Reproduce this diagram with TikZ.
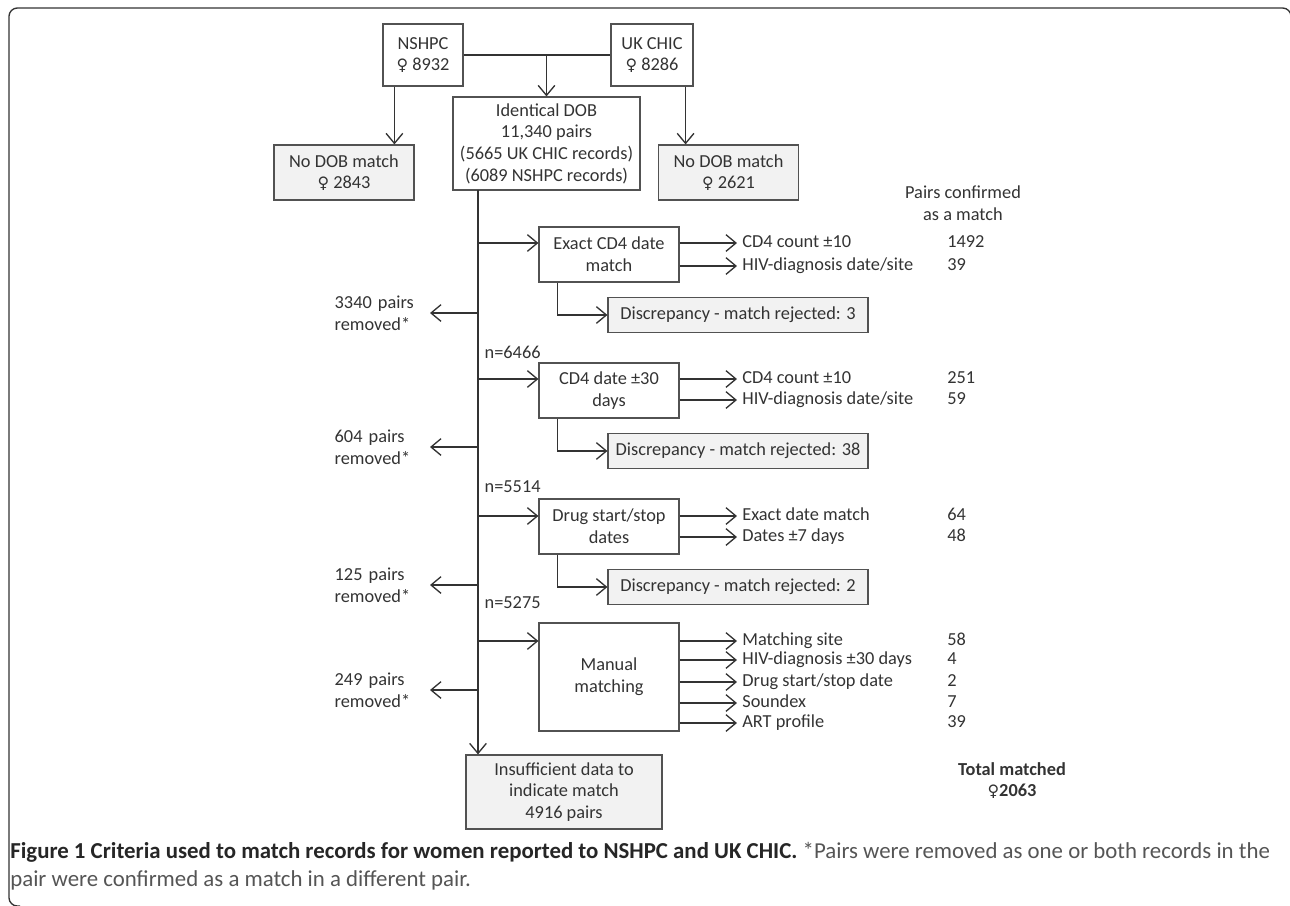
\documentclass[tikz,border=0pt]{standalone}
\usepackage{fontspec}
\setmainfont{Carlito}
\newfontfamily\symfont{DejaVu Sans}
\usetikzlibrary{arrows.meta,positioning}
\definecolor{ink}{HTML}{333333}
\definecolor{boxgray}{HTML}{F2F2F2}
\definecolor{capgray}{HTML}{555555}
\newcommand{\fem}{{\symfont\fontsize{9.5}{11}\selectfont ♀}}

\begin{document}
\begin{tikzpicture}[x=0.6pt, y=-0.6pt,
    every node/.style={font=\fontsize{11}{13}\selectfont, text=ink},
    box/.style={draw=ink!85, line width=0.7pt, align=center, inner sep=0pt},
    greybox/.style={box, fill=boxgray},
    arr/.style={draw=ink, line width=0.8pt, -{Straight Barb[length=6pt,width=10pt]}},
    line/.style={draw=ink, line width=0.8pt},
    lbl/.style={anchor=west, inner sep=3pt, text height=7.5pt, text depth=2pt},
    rem/.style={anchor=west, align=left, text width=55pt, inner sep=2pt}]
  \useasboundingbox (0,0) rectangle (1290,905);
  % frame
  \draw[line, rounded corners=5pt] (20,906) -- (9,906) -- (9,8) -- (1291,8) -- (1291,20);

  % sources
  \node[box, minimum width=48pt, minimum height=37.2pt] (nshpc) at (423,55) {NSHPC\\\fem\ 8932};
  \node[box, minimum width=49.2pt, minimum height=37.2pt] (ukchic) at (652,55) {UK CHIC\\\fem\ 8286};
  \node[box, minimum width=112.2pt, minimum height=55.8pt] (dob) at (546.5,143.5)
    {Identical DOB\\11,340 pairs\\(5665 UK CHIC records)\\(6089 NSHPC records)};
  \node[greybox, minimum width=84pt, minimum height=33pt] (nodob1) at (344,172.5) {No DOB match\\\fem\ 2843};
  \node[greybox, minimum width=84pt, minimum height=33pt] (nodob2) at (728.5,172.5) {No DOB match\\\fem\ 2621};
  \draw[line] (nshpc.east) -- (ukchic.west);
  \draw[arr] (nshpc.east -| dob.north) -- (dob.north);
  \draw[arr] ([xshift=7.2pt]nshpc.south west) -- ([xshift=7.2pt]nshpc.south west |- nodob1.north);
  \draw[arr] ([xshift=-4.8pt]ukchic.south east) -- ([xshift=-4.8pt]ukchic.south east |- nodob2.north);

  % matching steps
  \node[box, minimum width=84pt, minimum height=33pt] (exact) at (609,254.5) {Exact CD4 date\\match};
  \node[box, minimum width=84pt, minimum height=33pt] (cd4d) at (609,390.5) {CD4 date ±30\\days};
  \node[box, minimum width=84pt, minimum height=33pt] (drug) at (609,526.5) {Drug start/stop\\dates};
  \node[box, minimum width=84pt, minimum height=64.8pt] (manual) at (609,677) {Manual\\matching};
  \node[greybox, minimum width=156pt, minimum height=21pt] (disc1) at (738,315) {Discrepancy - match rejected: 3};
  \node[greybox, minimum width=156pt, minimum height=21pt] (disc2) at (738,451) {Discrepancy - match rejected: 38};
  \node[greybox, minimum width=156pt, minimum height=21pt] (disc3) at (738,587) {Discrepancy - match rejected: 2};
  \node[greybox, minimum width=117.6pt, minimum height=44.4pt] (insuff) at (564,792)
    {Insufficient data to\\indicate match\\4916 pairs};

  % outcomes and counts
  \node[lbl] (ex1) at (737,243) {CD4 count ±10};
  \node[lbl] (ex2) at (737,266) {HIV-diagnosis date/site};
  \node[lbl] (cd1) at (737,379) {CD4 count ±10};
  \node[lbl] (cd2) at (737,400) {HIV-diagnosis date/site};
  \node[lbl] (dr1) at (737,516) {Exact date match};
  \node[lbl] (dr2) at (737,537) {Dates ±7 days};
  \node[lbl] (ma1) at (737,641) {Matching site};
  \node[lbl] (ma2) at (737,660) {HIV-diagnosis ±30 days};
  \node[lbl] (ma3) at (737,682) {Drug start/stop date};
  \node[lbl] (ma4) at (737,703) {Soundex};
  \node[lbl] (ma5) at (737,723) {ART profile};
  \foreach \row/\val in {ex1/1492, ex2/39, cd1/251, cd2/59, dr1/64, dr2/48,
                         ma1/58, ma2/4, ma3/2, ma4/7, ma5/39}
    \node[lbl] (n-\row) at (942,0 |- \row) {\val};
  \foreach \stp/\row in {exact/ex1, exact/ex2, cd4d/cd1, cd4d/cd2, drug/dr1, drug/dr2,
                         manual/ma1, manual/ma2, manual/ma3, manual/ma4, manual/ma5}
    \draw[arr] (\stp.east |- \row.west) -- (\row.west);
  \node[align=center] (confirmed) at (963,203.5) {Pairs confirmed\\as a match};
  \node[align=center, font=\fontsize{11}{13}\selectfont\bfseries] (total) at (1012,780.5)
    {Total matched\\\fem2063};

  % trunk
  \coordinate (trunk) at (478,190);
  \draw[arr] (trunk) -- (trunk |- insuff.north);
  \foreach \stp/\row in {exact/ex1, cd4d/cd1, drug/dr1, manual/ma1}
    \draw[arr] (trunk |- \row.west) -- (\stp.west |- \row.west);
  \foreach \stp/\disc in {exact/disc1, cd4d/disc2, drug/disc3}
    \draw[arr] ([xshift=11.4pt]\stp.south west) |- (\disc.west);
  \node[anchor=west, inner sep=2pt] (n1) at (481,352) {n=6466};
  \node[anchor=west, inner sep=2pt] (n2) at (481,487) {n=5514};
  \node[anchor=west, inner sep=2pt] (n3) at (481,603) {n=5275};

  % removed pairs
  \node[rem] (rem1) at (331,313) {3340 pairs\\removed*};
  \node[rem] (rem2) at (331,447) {604 pairs\\removed*};
  \node[rem] (rem3) at (331,585) {125 pairs\\removed*};
  \node[rem] (rem4) at (331,690) {249 pairs\\removed*};
  \foreach \r in {rem1, rem2, rem3, rem4}
    \draw[arr] (trunk |- \r.east) -- (\r.east);

  % caption
  \node[anchor=north west, inner sep=0pt, align=left, text=capgray,
        font=\fontsize{13.7}{16.8}\selectfont] (caption) at (10,842)
    {\textbf{\color{black!85}Figure 1 Criteria used to match records for women reported to NSHPC and UK CHIC.}
     *Pairs were removed as one or both records in the\\pair were confirmed as a match in a different pair.};
\end{tikzpicture}
\end{document}
